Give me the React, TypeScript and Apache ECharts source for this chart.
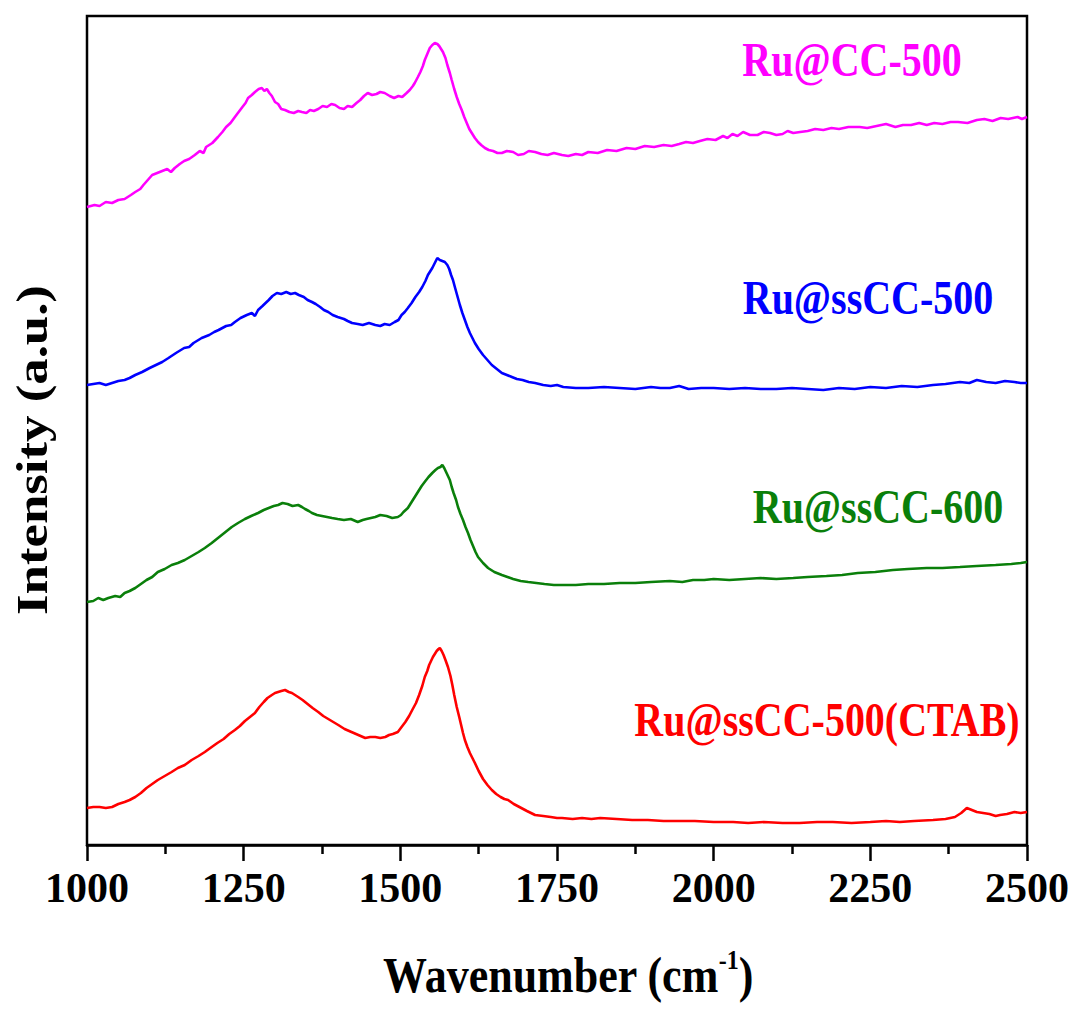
import React, { useEffect, useRef } from "react";
import * as echarts from "echarts";

// Raman spectra (offset, arbitrary units): [wavenumber cm-1, intensity]
const ruCC500: number[][] = [
  [1000, 638], [1012, 640], [1020, 639], [1030, 643], [1040, 642], [1050, 645], [1060, 646], [1070, 650], [1077, 653],
  [1085, 656], [1090, 660], [1097, 665], [1104, 670], [1112, 672], [1120, 674], [1128, 676], [1134, 673], [1140, 677],
  [1148, 681], [1155, 684], [1163, 686], [1172, 690], [1180, 694], [1186, 692], [1190, 698], [1200, 702], [1209, 708],
  [1216, 713], [1222, 718], [1229, 722], [1236, 728], [1242, 733], [1248, 738], [1253, 742], [1257, 747], [1263, 750],
  [1268, 753], [1274, 756], [1279, 757], [1283, 754], [1287, 756], [1291, 752], [1295, 749], [1300, 743], [1305, 741],
  [1310, 736], [1316, 735], [1323, 733], [1330, 732], [1337, 734], [1343, 733], [1350, 732], [1356, 735], [1362, 734],
  [1369, 736], [1376, 739], [1383, 738], [1390, 741], [1396, 740], [1403, 737], [1410, 736], [1416, 739], [1423, 738],
  [1430, 742], [1436, 745], [1442, 749], [1448, 752], [1455, 750], [1462, 751], [1468, 753], [1475, 752], [1483, 749],
  [1490, 747], [1497, 749], [1503, 748], [1510, 752], [1515, 755], [1520, 759], [1523, 762], [1528, 768], [1532, 773],
  [1536, 779], [1539, 785], [1543, 791], [1547, 797], [1551, 800], [1555, 802], [1559, 801], [1562, 799], [1565, 796],
  [1568, 793], [1572, 787], [1575, 780], [1579, 772], [1582, 765], [1586, 756], [1590, 748], [1594, 741], [1598, 735],
  [1602, 728], [1606, 722], [1610, 716], [1614, 712], [1619, 707], [1624, 703], [1629, 700], [1635, 697], [1641, 695],
  [1648, 694], [1655, 692], [1662, 692], [1670, 694], [1680, 693], [1688, 690], [1697, 691], [1705, 694], [1715, 693],
  [1725, 691], [1735, 690], [1745, 692], [1758, 690], [1768, 689], [1780, 691], [1790, 690], [1800, 693], [1815, 692],
  [1830, 695], [1845, 694], [1861, 697], [1875, 696], [1890, 699], [1905, 698], [1920, 700], [1933, 699], [1945, 701],
  [1956, 703], [1967, 702], [1978, 704], [1990, 706], [2003, 705], [2015, 709], [2022, 707], [2030, 711], [2038, 709],
  [2047, 713], [2058, 710], [2070, 710], [2080, 713], [2090, 712], [2100, 710], [2110, 711], [2118, 714], [2127, 712],
  [2138, 713], [2150, 714], [2162, 716], [2175, 715], [2188, 717], [2200, 716], [2215, 718], [2233, 718], [2245, 717],
  [2260, 719], [2275, 721], [2290, 718], [2302, 720], [2315, 720], [2328, 722], [2340, 720], [2352, 722], [2365, 721],
  [2378, 723], [2390, 723], [2405, 722], [2420, 725], [2432, 726], [2445, 724], [2458, 727], [2470, 726], [2485, 728],
  [2492, 726], [2500, 728],
];

const ruSsCC500: number[][] = [
  [1000, 460], [1010, 461], [1020, 462], [1030, 460], [1040, 462], [1050, 464], [1060, 465], [1068, 467], [1077, 470],
  [1088, 473], [1100, 477], [1110, 480], [1120, 483], [1130, 487], [1142, 492], [1155, 497], [1163, 498], [1170, 502],
  [1183, 507], [1195, 510], [1203, 513], [1210, 515], [1222, 519], [1230, 520], [1236, 523], [1245, 527], [1255, 530],
  [1263, 532], [1268, 529], [1273, 535], [1280, 539], [1285, 542], [1290, 545], [1296, 549], [1303, 552], [1310, 551],
  [1318, 553], [1325, 551], [1332, 552], [1338, 550], [1346, 548], [1352, 545], [1359, 543], [1365, 541], [1372, 538],
  [1378, 535], [1385, 533], [1392, 530], [1400, 528], [1410, 526], [1416, 524], [1423, 522], [1432, 521], [1440, 520],
  [1450, 522], [1460, 520], [1468, 519], [1475, 521], [1483, 520], [1491, 523], [1497, 525], [1502, 530], [1507, 533],
  [1512, 537], [1518, 542], [1524, 548], [1530, 553], [1535, 558], [1540, 564], [1544, 570], [1548, 574], [1551, 577],
  [1555, 582], [1559, 587], [1563, 585], [1567, 584], [1571, 583], [1575, 580], [1578, 576], [1581, 570], [1584, 565],
  [1587, 558], [1591, 549], [1595, 540], [1599, 532], [1603, 525], [1607, 518], [1611, 512], [1615, 507], [1619, 502],
  [1625, 496], [1632, 490], [1639, 485], [1646, 480], [1654, 476], [1662, 472], [1670, 470], [1678, 468], [1686, 466],
  [1695, 465], [1705, 463], [1715, 462], [1728, 460], [1740, 459], [1750, 460], [1760, 458], [1780, 457], [1800, 457],
  [1825, 458], [1850, 457], [1875, 456], [1900, 458], [1915, 457], [1930, 457], [1945, 459], [1960, 456], [1980, 457],
  [2000, 457], [2025, 456], [2050, 457], [2075, 456], [2100, 456], [2125, 457], [2150, 456], [2175, 455], [2200, 457],
  [2225, 456], [2250, 458], [2275, 457], [2300, 459], [2325, 458], [2350, 460], [2370, 461], [2393, 463], [2408, 462],
  [2420, 465], [2435, 463], [2450, 462], [2465, 464], [2480, 463], [2490, 462], [2500, 462],
];

const ruSsCC600: number[][] = [
  [1000, 243], [1010, 244], [1018, 247], [1026, 245], [1034, 247], [1045, 249], [1053, 248], [1060, 252], [1068, 254],
  [1077, 257], [1086, 261], [1095, 265], [1104, 268], [1113, 273], [1124, 276], [1135, 280], [1145, 282], [1156, 285],
  [1167, 289], [1178, 293], [1188, 297], [1199, 302], [1207, 306], [1215, 310], [1223, 314], [1231, 318], [1241, 322],
  [1252, 326], [1262, 329], [1273, 332], [1282, 335], [1290, 337], [1298, 339], [1305, 340], [1312, 342], [1320, 341],
  [1328, 339], [1337, 340], [1343, 338], [1348, 336], [1354, 334], [1359, 332], [1367, 330], [1375, 329], [1383, 328],
  [1391, 327], [1400, 326], [1410, 325], [1421, 326], [1432, 323], [1440, 325], [1446, 326], [1453, 327], [1460, 328],
  [1468, 330], [1478, 329], [1487, 327], [1496, 328], [1501, 330], [1505, 333], [1512, 337], [1516, 341], [1520, 345],
  [1524, 349], [1528, 353], [1534, 359], [1540, 364], [1545, 368], [1551, 372], [1556, 375], [1560, 377], [1564, 378],
  [1567, 380], [1570, 377], [1573, 373], [1576, 369], [1579, 365], [1582, 358], [1585, 352], [1589, 345], [1592, 338],
  [1596, 331], [1600, 325], [1604, 318], [1608, 312], [1612, 305], [1616, 299], [1620, 293], [1624, 288], [1632, 282],
  [1640, 277], [1650, 273], [1662, 270], [1671, 268], [1680, 266], [1692, 264], [1704, 263], [1717, 262], [1730, 261],
  [1745, 260], [1758, 260], [1780, 260], [1800, 261], [1825, 261], [1850, 262], [1875, 262], [1900, 263], [1930, 264],
  [1950, 263], [1967, 265], [1985, 265], [2000, 266], [2025, 265], [2050, 266], [2075, 267], [2100, 266], [2127, 267],
  [2150, 268], [2180, 269], [2205, 270], [2230, 272], [2258, 273], [2286, 275], [2310, 276], [2340, 277], [2365, 277],
  [2393, 278], [2420, 279], [2450, 280], [2475, 281], [2490, 282], [2500, 283],
];

const ruSsCC500CTAB: number[][] = [
  [1000, 37], [1010, 38], [1020, 38], [1030, 37], [1040, 38], [1050, 41], [1060, 43], [1068, 45], [1077, 48], [1086, 52],
  [1095, 57], [1104, 61], [1113, 65], [1124, 69], [1135, 73], [1145, 77], [1156, 80], [1167, 85], [1178, 89], [1188, 93],
  [1199, 98], [1208, 102], [1218, 106], [1227, 111], [1236, 115], [1244, 119], [1252, 124], [1260, 128], [1268, 132],
  [1275, 138], [1282, 143], [1288, 147], [1295, 150], [1300, 152], [1305, 153], [1310, 154], [1316, 155], [1322, 153],
  [1327, 152], [1332, 150], [1337, 148], [1344, 145], [1352, 141], [1360, 137], [1369, 133], [1377, 129], [1385, 126],
  [1393, 123], [1401, 120], [1411, 116], [1422, 113], [1433, 110], [1444, 107], [1452, 108], [1460, 108], [1468, 107],
  [1476, 108], [1482, 110], [1488, 111], [1492, 112], [1496, 113], [1502, 118], [1508, 123], [1514, 129], [1519, 135],
  [1525, 142], [1530, 150], [1535, 159], [1539, 168], [1543, 174], [1546, 180], [1549, 184], [1552, 188], [1555, 191],
  [1558, 194], [1561, 196], [1563, 197], [1566, 194], [1569, 190], [1572, 185], [1576, 178], [1580, 169], [1583, 160],
  [1586, 150], [1590, 138], [1594, 128], [1597, 120], [1600, 112], [1603, 105], [1607, 98], [1611, 92], [1615, 87],
  [1619, 82], [1625, 74], [1632, 66], [1639, 60], [1646, 55], [1653, 51], [1660, 48], [1666, 46], [1672, 45], [1681, 41],
  [1690, 38], [1702, 34], [1715, 30], [1728, 29], [1740, 28], [1750, 27], [1758, 27], [1775, 26], [1790, 27], [1805, 26],
  [1819, 27], [1845, 26], [1870, 25], [1895, 25], [1920, 24], [1945, 24], [1970, 24], [2000, 23], [2031, 23], [2055, 22],
  [2080, 23], [2110, 22], [2137, 22], [2165, 23], [2190, 23], [2220, 22], [2250, 23], [2275, 24], [2297, 23], [2320, 24],
  [2350, 25], [2370, 26], [2385, 28], [2395, 32], [2404, 37], [2412, 35], [2420, 33], [2430, 32], [2440, 31], [2450, 29],
  [2457, 30], [2468, 31], [2480, 33], [2490, 32], [2500, 33],
];

const seriesNames = ["Ru@CC-500", "Ru@ssCC-500", "Ru@ssCC-600", "Ru@ssCC-500(CTAB)"];
const seriesColors = ["#ff00ff", "#0000ff", "#0a7f0a", "#ff0000"];
const seriesData = [ruCC500, ruSsCC500, ruSsCC600, ruSsCC500CTAB];

const xTitle = "Wavenumber (cm";
const yTitle = "Intensity (a.u.)";

const FONT = "Liberation Serif";

export default function App() {
  const ref = useRef<HTMLDivElement>(null);

  useEffect(() => {
    if (!ref.current) return;
    const chart = echarts.init(ref.current, null, { renderer: "svg" });

    const labelPos = [
      { x: 852, y: 60 },
      { x: 868, y: 298 },
      { x: 878, y: 507 },
      { x: 827, y: 720 },
    ];

    chart.setOption({
      animation: false,
      backgroundColor: "#ffffff",
      grid: {
        left: 87,
        right: 51,
        top: 16,
        bottom: 167,
        show: true,
        borderColor: "#000",
        borderWidth: 2.5,
        backgroundColor: "transparent",
      },
      xAxis: {
        type: "value",
        min: 1000,
        max: 2500,
        interval: 250,
        splitLine: { show: false },
        axisLine: { show: true, onZero: false, lineStyle: { color: "#000", width: 2.5 } },
        axisTick: { show: true, inside: false, length: 16, lineStyle: { color: "#000", width: 2.5 } },
        minorTick: { show: true, splitNumber: 2, length: 9, lineStyle: { color: "#000", width: 2.5 } },
        axisLabel: {
          color: "#000",
          fontFamily: FONT,
          fontWeight: "bold",
          fontSize: 42,
          margin: 22,
          formatter: (v: number) => String(v),
        },
      },
      yAxis: {
        type: "value",
        min: 0,
        max: 829,
        show: false,
        splitLine: { show: false },
      },
      series: seriesData.map((d, i) => ({
        name: seriesNames[i],
        type: "line",
        data: d,
        showSymbol: false,
        symbol: "none",
        lineStyle: { color: seriesColors[i], width: 2.6 },
        itemStyle: { color: seriesColors[i] },
      })),
      graphic: [
        ...seriesNames.map((n, i) => ({
          type: "text",
          x: labelPos[i].x,
          y: labelPos[i].y,
          scaleY: 1.2,
          style: {
            text: n,
            fill: seriesColors[i],
            fontFamily: FONT,
            fontWeight: "bold",
            fontSize: 40,
            align: "center",
            verticalAlign: "middle",
          },
        })),
        {
          type: "text",
          x: 568,
          y: 975,
          scaleY: 1.15,
          style: {
            text: `{a|${xTitle}}{s|-1}{a|)}`,
            align: "center",
            verticalAlign: "middle",
            rich: {
              a: { fontFamily: FONT, fontWeight: "bold", fontSize: 44, fill: "#000", lineHeight: 50 },
              s: { fontFamily: FONT, fontWeight: "bold", fontSize: 24, fill: "#000", verticalAlign: "top", lineHeight: 50, padding: [0, 0, 22, 0] },
            },
          },
        },
        {
          type: "text",
          x: 33,
          y: 450,
          rotation: Math.PI / 2,
          scaleX: 1.2,
          style: {
            text: yTitle,
            fill: "#000",
            fontFamily: FONT,
            fontWeight: "bold",
            fontSize: 44,
            align: "center",
            verticalAlign: "middle",
          },
        },
      ],
    });

    return () => chart.dispose();
  }, []);

  return <div ref={ref} style={{ width: 1078, height: 1012, position: "absolute", left: 0, top: 0 }} />;
}
